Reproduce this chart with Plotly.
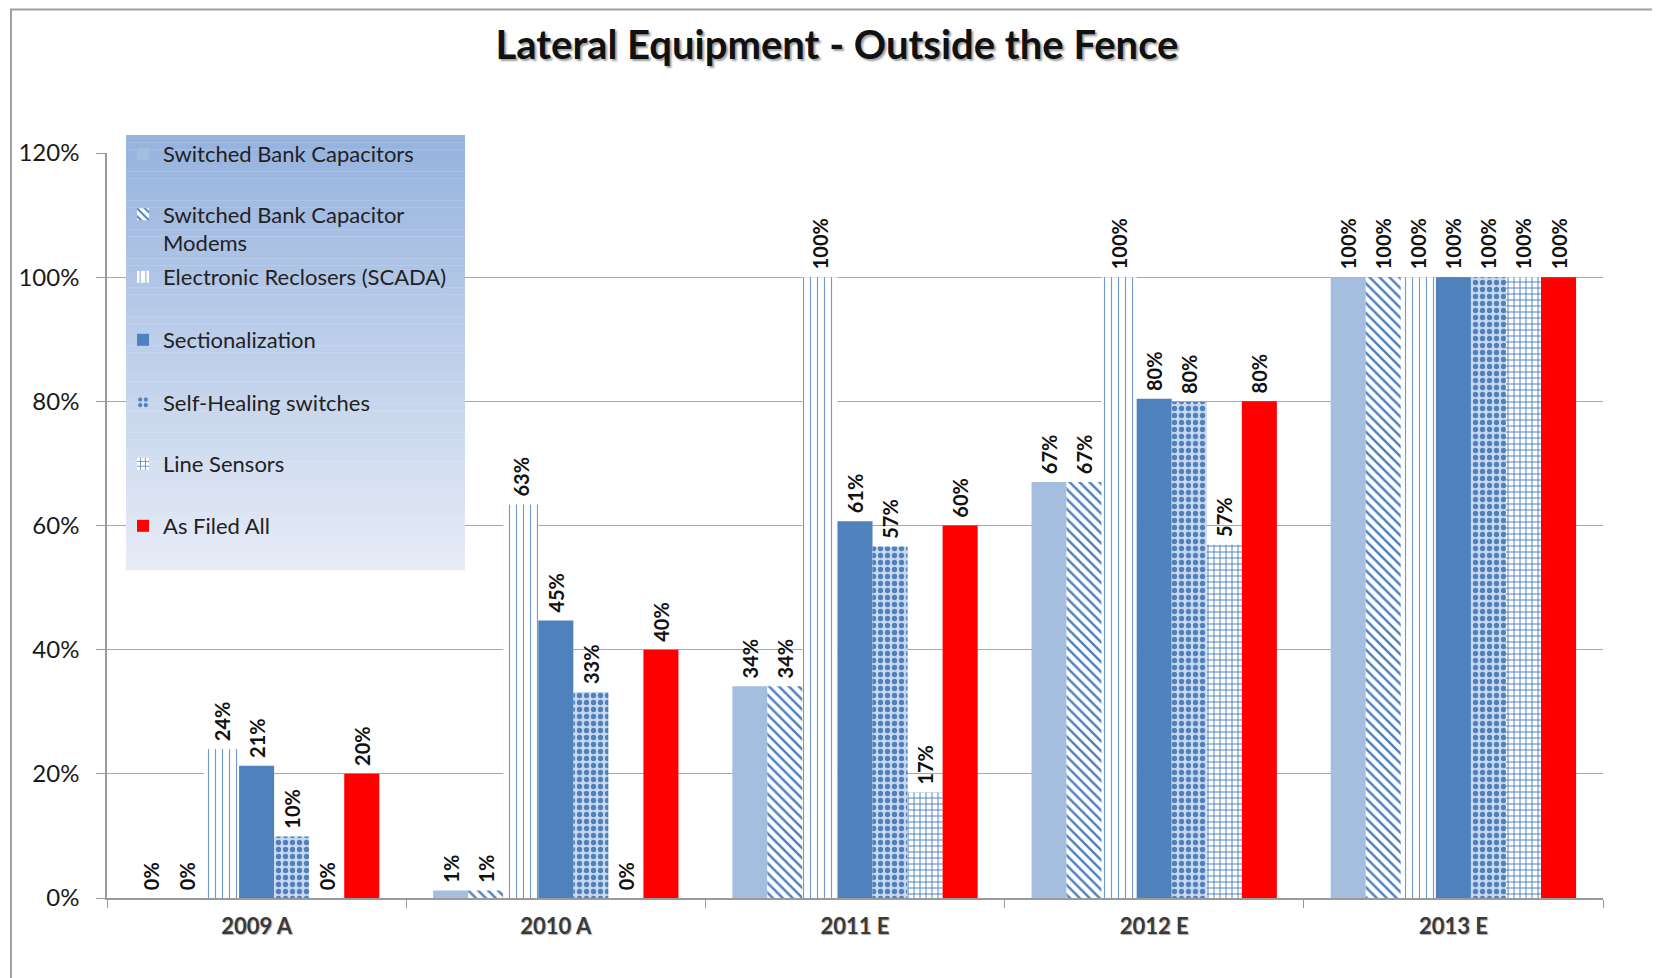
import plotly.graph_objects as go

# ---------------- data ----------------
categories = ["2009 A", "2010 A", "2011 E", "2012 E", "2013 E"]

series_names = [
    "Switched Bank Capacitors",
    "Switched Bank Capacitor<br>Modems",
    "Electronic Reclosers (SCADA)",
    "Sectionalization",
    "Self-Healing switches",
    "Line Sensors",
    "As Filed All",
]

switched_bank_capacitors = [0.0, 0.012, 0.341, 0.670, 1.0]
switched_bank_capacitor_modems = [0.0, 0.012, 0.341, 0.670, 1.0]
electronic_reclosers = [0.240, 0.634, 1.0, 1.0, 1.0]
sectionalization = [0.213, 0.447, 0.607, 0.804, 1.0]
self_healing_switches = [0.099, 0.332, 0.566, 0.799, 1.0]
line_sensors = [0.0, 0.0, 0.170, 0.569, 1.0]
as_filed_all = [0.20, 0.40, 0.60, 0.80, 1.0]

series_values = [
    switched_bank_capacitors,
    switched_bank_capacitor_modems,
    electronic_reclosers,
    sectionalization,
    self_healing_switches,
    line_sensors,
    as_filed_all,
]

y_tick_values = [0, 0.2, 0.4, 0.6, 0.8, 1.0, 1.2]

# ---------------- styles ----------------
BLUE = "#4F81BD"
LIGHT = "#A5BEDF"
styles = [
    dict(color=LIGHT, pattern=dict(shape="")),
    dict(color=BLUE, pattern=dict(shape="\\", fgcolor=BLUE, bgcolor="white", size=7, solidity=0.35, fillmode="replace")),
    dict(color=BLUE, pattern=dict(shape="|", fgcolor="#6F9BD1", bgcolor="white", size=7, solidity=0.16, fillmode="replace")),
    dict(color=BLUE, pattern=dict(shape="")),
    dict(color=BLUE, pattern=dict(shape=".", fgcolor=BLUE, bgcolor="#C9D8EE", size=7, solidity=0.45, fillmode="replace")),
    dict(color=BLUE, pattern=dict(shape="+", fgcolor=BLUE, bgcolor="white", size=6, solidity=0.3, fillmode="replace")),
    dict(color="#FF0000", pattern=dict(shape="")),
]

FONT = "Lato"
OFF = 8  # page offset of the figure (body margin)
W, H = 1652, 970
ML, MT = 107 - OFF, 153 - OFF
MR = W - (1603 - OFF)
MB = H - (898 - OFF)
PW, PH = W - ML - MR, H - MT - MB


def px_to_paper_x(px):
    # px given in page coordinates
    return (px - OFF - ML) / PW


def px_to_paper_y(py):
    return 1 - (py - OFF - MT) / PH


fig = go.Figure()

legend_ids = ["legend", "legend2", "legend3", "legend4", "legend5", "legend6", "legend7"]
for name, vals, st, lid in zip(series_names, series_values, styles, legend_ids):
    fig.add_trace(go.Bar(
        x=categories,
        y=vals,
        name=name,
        legend=lid,
        marker=dict(color=st["color"], pattern=st["pattern"], line=dict(width=0)),
        texttemplate="\u00a0%{y:.0%}",
        textposition="outside",
        textangle=-90,
        constraintext="none",
        textfont=dict(family=FONT, size=20, color="#111111", weight="bold"),
        cliponaxis=False,
    ))

# legend positions (item centre y in page px)
item_centres = [154, 229, 277, 340, 402.5, 464, 526]
legend_x = px_to_paper_x(123)
layout_legends = {}
for lid, cy in zip(legend_ids, item_centres):
    layout_legends[lid] = dict(
        x=legend_x, y=px_to_paper_y(cy), xanchor="left", yanchor="middle",
        bgcolor="rgba(0,0,0,0)", borderwidth=0, valign="top",
        font=dict(family=FONT, size=22, color="#222222"),
    )

# gradient background for legend area
shapes = []
x0, x1 = px_to_paper_x(126), px_to_paper_x(465)
top_px, bot_px = 135, 570
N = 60
c_top = (150, 179, 222)
c_bot = (230, 235, 246)
for i in range(N):
    t = i / (N - 1)
    c = tuple(round(a + (b - a) * t) for a, b in zip(c_top, c_bot))
    ya = top_px + (bot_px - top_px) * i / N
    yb = top_px + (bot_px - top_px) * (i + 1) / N
    shapes.append(dict(
        type="rect", xref="paper", yref="paper", layer="above",
        x0=x0, x1=x1, y0=px_to_paper_y(yb) - 0.0005, y1=px_to_paper_y(ya),
        fillcolor="rgb(%d,%d,%d)" % c, line=dict(width=0),
    ))

# outer chart frame
shapes.append(dict(
    type="rect", xref="paper", yref="paper", layer="below",
    x0=px_to_paper_x(11), x1=1.2, y0=-0.3, y1=px_to_paper_y(9.5),
    line=dict(color="#A0A0A0", width=2), fillcolor="rgba(0,0,0,0)",
))

fig.update_layout(
    width=W, height=H,
    margin=dict(l=ML, r=MR, t=MT, b=MB, autoexpand=False),
    paper_bgcolor="white", plot_bgcolor="white",
    barmode="group", bargap=0.18, bargroupgap=0.0,
    title=dict(
        text="Lateral Equipment - Outside the Fence",
        x=(837 - OFF) / W, xref="container", xanchor="center",
        y=1 - (45 - OFF) / H, yref="container", yanchor="middle",
        font=dict(family=FONT, size=40, color="#111111", weight="bold",
                  shadow="2px 2px 2px #A0A0A0"),
    ),
    xaxis=dict(
        type="category",
        showline=True, linecolor="#9A9A9A", linewidth=1.5,
        ticks="outside", tickson="boundaries", ticklen=8, tickcolor="#9A9A9A",
        tickfont=dict(family=FONT, size=22, color="#3A3A3A", weight="bold",
                      shadow="1px 1px 1px #B0B0B0"),
        ticklabelstandoff=8,
        showgrid=False,
    ),
    yaxis=dict(
        range=[0, 1.2], tickvals=y_tick_values, tickformat=".0%",
        showline=True, linecolor="#9A9A9A", linewidth=1.5,
        ticks="outside", ticklen=9, tickcolor="#9A9A9A",
        showgrid=True, gridcolor="#A8A8A8", gridwidth=1,
        zeroline=False,
        tickfont=dict(family=FONT, size=24, color="#1A1A1A"),
        ticklabelstandoff=12,
    ),
    shapes=shapes,
    showlegend=True,
    **layout_legends,
)

fig.write_html("out.html")
